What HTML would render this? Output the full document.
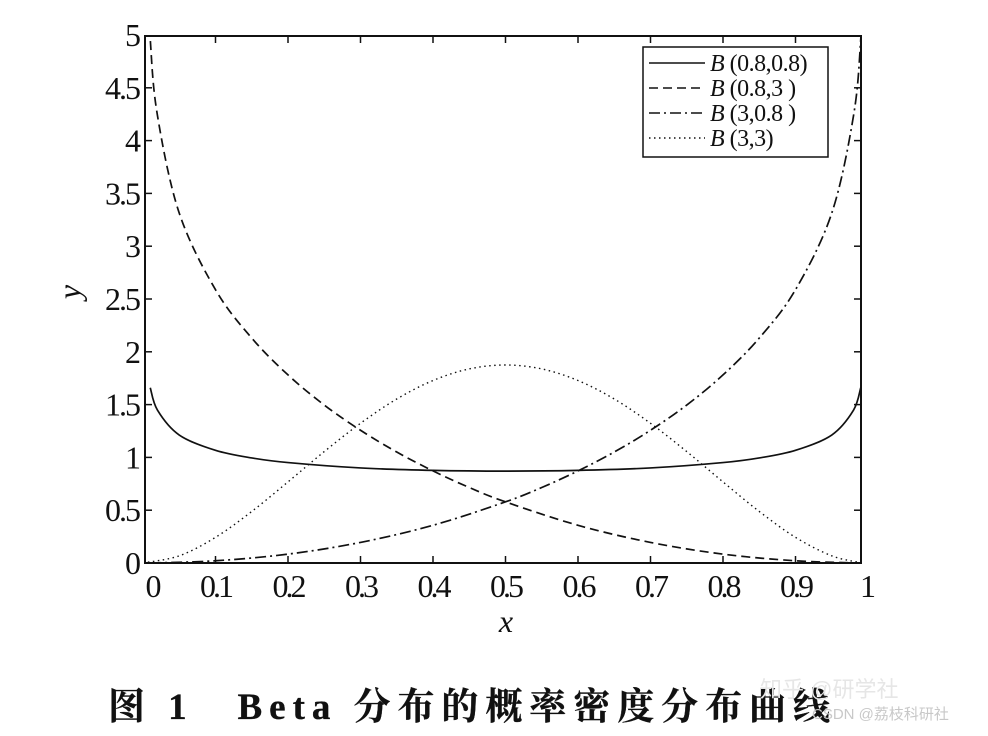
<!DOCTYPE html>
<html><head><meta charset="utf-8"><style>
body{margin:0;background:#fff;}
svg text{font-family:"Liberation Serif","Noto Serif CJK SC",serif;fill:#111;}
</style></head><body>
<svg width="988" height="731" viewBox="0 0 988 731">
<defs><clipPath id="pc"><rect x="145" y="36" width="716" height="527"/></clipPath></defs>
<g id="axes"></g>
<g id="series" clip-path="url(#pc)"></g>
<g>
<rect x="643" y="47" width="185" height="110" fill="#fff" stroke="#111" stroke-width="1.5"/>
<g id="legend"></g>
</g>
<text x="80" y="292" font-size="32" font-style="italic" transform="rotate(-90 80 292)" text-anchor="middle">y</text>
<text x="506" y="632" font-size="32" font-style="italic" text-anchor="middle">x</text>
<text x="108" y="719" font-size="37" textLength="722" lengthAdjust="spacing" style="font-weight:bold;stroke:#111;stroke-width:0.3">图 1　Beta 分布的概率密度分布曲线</text>
<text x="760" y="697" font-size="22" style="fill:#e6e6e6;font-family:'Liberation Sans','Noto Sans CJK SC',sans-serif">知乎 @研学社</text>
<text x="812" y="719" font-size="15" style="fill:#c8c8c8;font-family:'Liberation Sans','Noto Sans CJK SC',sans-serif">CSDN @荔枝科研社</text>
</svg>
<script>
const xTicks=[0,0.1,0.2,0.3,0.4,0.5,0.6,0.7,0.8,0.9];
const xTickLabels=["0","0.1","0.2","0.3","0.4","0.5","0.6","0.7","0.8","0.9"];
const yTicks=[0,0.5,1,1.5,2,2.5,3,3.5,4,4.5,5];
const yTickLabels=["0","0.5","1","1.5","2","2.5","3","3.5","4","4.5","5"];
const xA=[0.01,0.02,0.05,0.1,0.15,0.2,0.3,0.4,0.5,0.6,0.7,0.8,0.85,0.9,0.95,0.98,0.99];
const yA=[1.66,1.447,1.212,1.067,0.995,0.951,0.90,0.877,0.87,0.877,0.90,0.951,0.995,1.067,1.212,1.447,1.66];
const xB=[0.003,0.005,0.01,0.02,0.05,0.1,0.15,0.2,0.25,0.3,0.35,0.4,0.45,0.5,0.6,0.7,0.8,0.9,0.99];
const yB=[6.4,5.76,4.96,4.235,3.313,2.588,2.13,1.781,1.496,1.257,1.051,0.872,0.715,0.579,0.357,0.195,0.084,0.021,0.0];
const xC=[0.01,0.1,0.2,0.3,0.4,0.5,0.55,0.6,0.65,0.7,0.75,0.8,0.85,0.9,0.95,0.98,0.99,0.995,0.997];
const yC=[0.0,0.021,0.084,0.195,0.357,0.579,0.715,0.872,1.051,1.257,1.496,1.781,2.13,2.588,3.313,4.235,4.96,5.76,6.4];
const xD=[0,0.05,0.1,0.15,0.2,0.25,0.3,0.35,0.4,0.45,0.5,0.55,0.6,0.65,0.7,0.75,0.8,0.85,0.9,0.95,0.99];
const yD=[0,0.068,0.243,0.488,0.768,1.055,1.323,1.553,1.728,1.838,1.875,1.838,1.728,1.553,1.323,1.055,0.768,0.488,0.243,0.068,0.003];
const NS="http://www.w3.org/2000/svg";
const X0=143,XS=725,Y0=563,YS=105.6;
const sx=v=>X0+v*XS, sy=v=>Y0-v*YS;
function mk(t,a,p){const e=document.createElementNS(NS,t);for(const k in a)e.setAttribute(k,a[k]);p.appendChild(e);return e;}
const ax=document.getElementById('axes');
const fr=mk('rect',{x:145,y:36,width:716,height:527,fill:'none',stroke:'#111','stroke-width':2},ax);


xTicks.forEach((t,i)=>{const x=sx(t);
 if(i>0){const a=mk('line',{x1:x,x2:x,y1:563,y2:556,stroke:'#111','stroke-width':1.5},ax);
 
 
 const b=mk('line',{x1:x,x2:x,y1:36,y2:43,stroke:'#111','stroke-width':1.5},ax);
 
 }
 const l=mk('text',{x:x+(i==0?9:0),y:597,'font-size':32,'text-anchor':'middle','letter-spacing':-3},ax);l.textContent=xTickLabels[i];
 
 });
const l1=mk('text',{x:868,y:597,'font-size':32,'text-anchor':'middle'},ax);l1.textContent="1";


yTicks.forEach((t,i)=>{const y=sy(t);
 if(i>0&&i<yTicks.length-1){const a=mk('line',{x1:145,x2:152,y1:y,y2:y,stroke:'#111','stroke-width':1.5},ax);
 
 
 const b=mk('line',{x1:861,x2:854,y1:y,y2:y,stroke:'#111','stroke-width':1.5},ax);
 
 }
 const l=mk('text',{x:139,y:y+11,'font-size':32,'text-anchor':'end','letter-spacing':-2},ax);l.textContent=yTickLabels[i];
 
 });
function path(xs,ys){const p=xs.map((x,i)=>[sx(x),sy(ys[i])]);let d='M'+p[0][0]+','+p[0][1];
 for(let i=0;i<p.length-1;i++){const p0=p[Math.max(0,i-1)],p1=p[i],p2=p[i+1],p3=p[Math.min(p.length-1,i+2)];
 const c1=[p1[0]+(p2[0]-p0[0])/6,p1[1]+(p2[1]-p0[1])/6],c2=[p2[0]-(p3[0]-p1[0])/6,p2[1]-(p3[1]-p1[1])/6];
 d+=`C${c1[0]},${c1[1]} ${c2[0]},${c2[1]} ${p2[0]},${p2[1]}`;}return d;}
const sg=document.getElementById('series');
const series=[[xA,yA,'','series-b-0.8-0.8'],[xB,yB,'9,5','series-b-0.8-3'],[xC,yC,'11,4,2,4','series-b-3-0.8'],[xD,yD,'1.5,3.5','series-b-3-3']];
series.forEach(s=>{const e=mk('path',{d:path(s[0],s[1]),fill:'none',stroke:'#111','stroke-width':s[2]=='1.5,3.5'?1.4:1.7,'stroke-dasharray':s[2]||'none'},sg);
 
 });
const lg=document.getElementById('legend');
const labels=["(0.8,0.8)","(0.8,3  )","(3,0.8 )","(3,3)"];
labels.forEach((t,i)=>{const y=63+i*25;
 const ln=mk('line',{x1:649,x2:705,y1:y,y2:y,stroke:'#111','stroke-width':1.5,'stroke-dasharray':series[i][2]||'none'},lg);
 
 
 const tx=mk('text',{x:710,y:y+8,'font-size':24,'letter-spacing':-0.5},lg);
 tx.innerHTML='<tspan font-style="italic">B</tspan> '+t;
 
 });
</script>
</body></html>
